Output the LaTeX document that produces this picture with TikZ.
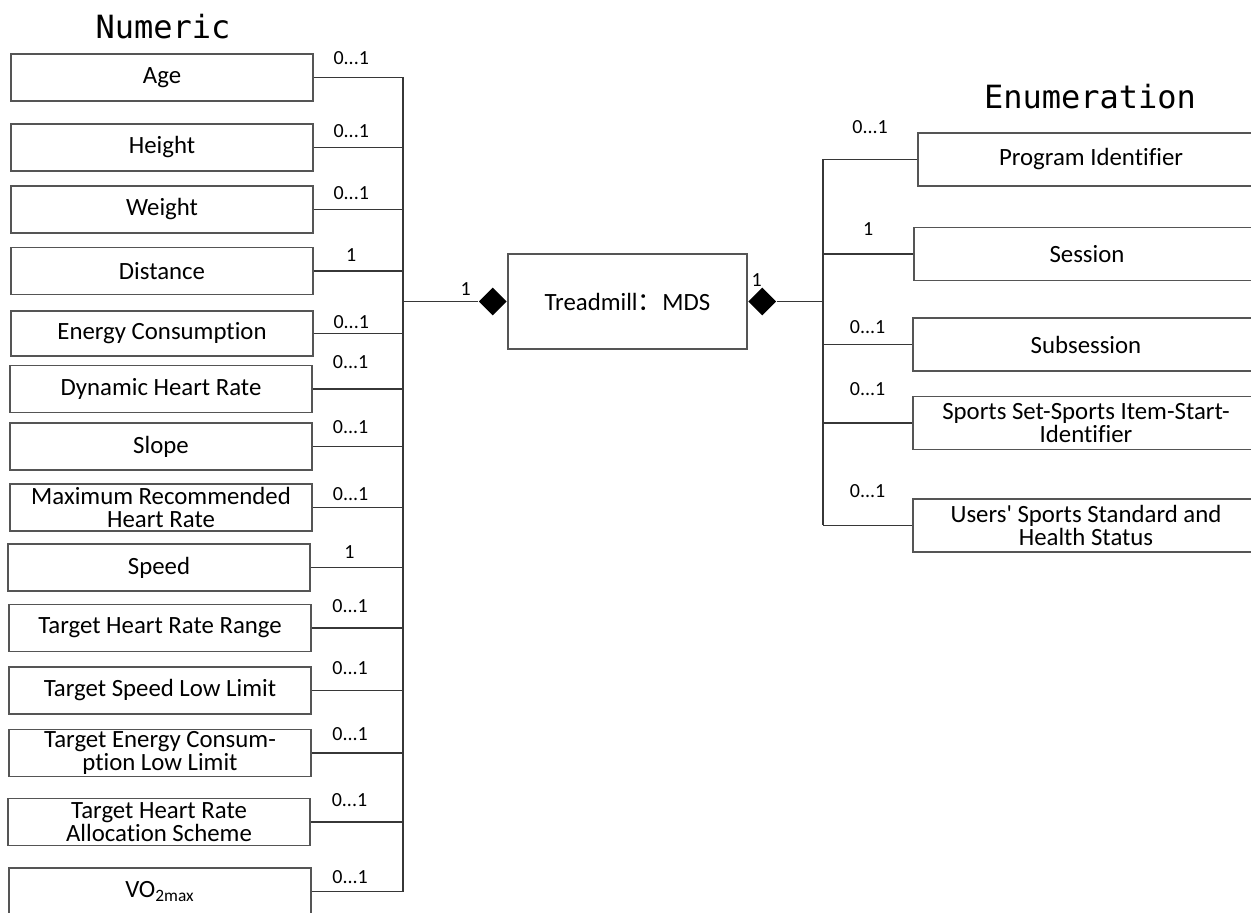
\documentclass[tikz,border=0pt]{standalone}
\usepackage{fontspec}
\setmainfont{Carlito}[Ligatures={TeXOff,NoCommon}]
\newfontfamily\titlefont{DejaVu Sans Mono}
\newfontfamily\cjk{Noto Sans CJK SC}
\usepackage{xcolor}
\usepackage{tikz}
\usetikzlibrary{positioning,shapes.geometric}
\definecolor{boxgray}{RGB}{85,85,85}
\definecolor{linegray}{RGB}{55,55,55}
\newcommand{\zeroone}{0...1}

\begin{document}
\begin{tikzpicture}[x=0.5pt,y=-0.5pt,every node/.style={font=\fontsize{12.4}{11.5}\selectfont},
   box/.style={draw=boxgray,line width=0.8pt,align=center,inner sep=0pt,minimum width=151pt,minimum height=23.5pt},
   rbox/.style={box,minimum width=173pt,minimum height=26.5pt},
   card/.style={inner sep=0pt,font=\fontsize{10}{11}\selectfont},
   dia/.style={diamond,fill=black,inner sep=0pt,minimum width=14pt,minimum height=14pt},
   conn/.style={draw=linegray,line width=0.65pt},
   title/.style={inner sep=0pt,font=\titlefont\fontsize{16}{18}\selectfont}]
\useasboundingbox (0,0) rectangle (1251,913);
% group titles
\node[title] (numeric) at (163,27) {Numeric};
\node[title] (enum) at (1090,97) {Enumeration};
% numeric attributes
\node[box] (age) at (162,77.5) {Age};
\node[box] (height) at (162,147.5) {Height};
\node[box] (weight) at (162,209.5) {Weight};
\node[box] (distance) at (162,271) {Distance};
\node[box,minimum height=22.5pt] (energy) at (162,333.5) {Energy Consumption};
\node[box] (dynhr) at (161,389) {Dynamic Heart Rate};
\node[box] (slope) at (161,446.5) {Slope};
\node[box] (maxhr) at (161,507.5) {Maximum Recommended\\ Heart Rate};
\node[box] (speed) at (159,567.5) {Speed};
\node[box] (thrrange) at (160,628) {Target Heart Rate Range};
\node[box] (tslow) at (160,690.5) {Target Speed Low Limit};
\node[box] (telow) at (160,753) {Target Energy Consum-\\ ption Low Limit};
\node[box] (thralloc) at (159,822) {Target Heart Rate\\ Allocation Scheme};
\node[box] (vo2) at (160,891.5) {VO\textsubscript{2max}};
% the data set
\node[box,minimum width=119.5pt,minimum height=47.5pt] (mds) at (627.5,301.5) {Treadmill{\cjk ：}MDS};
\node[dia,left=0pt of mds] (ldia) {};
\node[dia,right=0pt of mds] (rdia) {};
% enumerated attributes
\node[rbox] (progid) at (1091,159.5) {Program Identifier};
\node[rbox] (session) at (1087,254) {Session};
\node[rbox] (subsession) at (1086,344.5) {Subsession};
\node[rbox] (sportset) at (1086,423) {Sports Set-Sports Item-Start-\\ Identifier};
\node[rbox] (userstd) at (1086,525.5) {Users' Sports Standard and\\ Health Status};
\coordinate (lbus) at (403,301.5);
\coordinate (rbus) at (823,301.5);
% left connectors
\foreach \n/\m/\d in {age/\zeroone/9.75pt,height/\zeroone/8.25pt,weight/\zeroone/8.25pt,distance/1/8pt,
   energy/\zeroone/5.75pt,dynhr/\zeroone/13.5pt,slope/\zeroone/9.75pt,maxhr/\zeroone/6.75pt,speed/1/7.75pt,
   thrrange/\zeroone/11pt,tslow/\zeroone/11.25pt,telow/\zeroone/9.5pt,thralloc/\zeroone/11pt,vo2/\zeroone/7.25pt}
  \draw[conn] (\n.east) -- node[card,pos=0.42,yshift=\d] (c\n) {\m} (\n.east -| lbus);
\draw[conn] (age.east -| lbus) -- (vo2.east -| lbus);
\draw[conn] (lbus) -- node[card,pos=0.83,yshift=6.25pt] (cl) {1} (ldia.west);
% right connectors
\foreach \n/\m/\d in {progid/\zeroone/16.25pt,session/1/12.5pt,subsession/\zeroone/8.75pt,
   sportset/\zeroone/17pt,userstd/\zeroone/17.25pt}
  \draw[conn] (\n.west -| rbus) -- node[card,yshift=\d] (c\n) {\m} (\n.west);
\draw[conn] (progid.west -| rbus) -- (userstd.west -| rbus);
\draw[conn] (rdia.east) -- (rbus);
\node[card,anchor=south] (cr) at ([xshift=-2.75pt]rdia.north) {1};
\end{tikzpicture}
\end{document}
